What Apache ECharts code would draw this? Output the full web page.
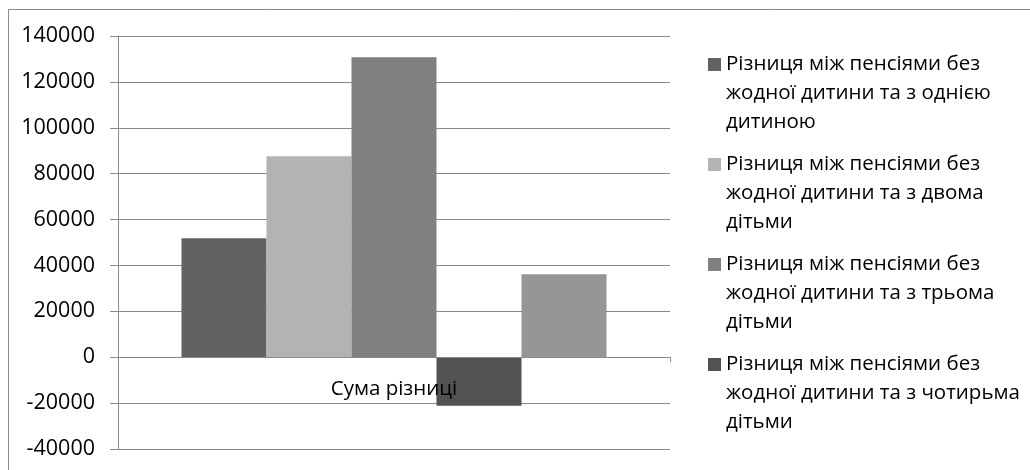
<!DOCTYPE html>
<html>
<head>
<meta charset="utf-8">
<script src="https://cdn.jsdelivr.net/npm/echarts@6/dist/echarts.min.js"></script>
<style>html,body{margin:0;padding:0;background:#fff}#c{width:1030px;height:470px}</style>
</head>
<body>
<div id="c"></div>
<script>
var categories = ['Сума різниці'];
var seriesNames = [
  'Різниця між пенсіями без жодної дитини та з однією дитиною',
  'Різниця між пенсіями без жодної дитини та з двома дітьми',
  'Різниця між пенсіями без жодної дитини та з трьома дітьми',
  'Різниця між пенсіями без жодної дитини та з чотирьма дітьми',
  'Різниця між пенсіями без жодної дитини та з пʼятьма дітьми'
];
var legendLabels = [
  'Різниця між пенсіями без\nжодної дитини та з однією\nдитиною',
  'Різниця між пенсіями без\nжодної дитини та з двома\nдітьми',
  'Різниця між пенсіями без\nжодної дитини та з трьома\nдітьми',
  'Різниця між пенсіями без\nжодної дитини та з чотирьма\nдітьми'
];
var seriesValues = [51900, 87600, 130700, -21200, 36200];
var seriesColors = ['#626262', '#b3b3b3', '#808080', '#525252', '#969696'];
var yMin = -40000, yMax = 140000, yStep = 20000;

var FONT = 'Open Sans';
var gridTop = 36, gridBottom = 21, chartH = 470;
var plotH = chartH - gridTop - gridBottom;
var zeroOffset = plotH * (0 - yMin) / (yMax - yMin);

var chart = echarts.init(document.getElementById('c'));
var series = seriesNames.map(function (n, i) {
  return {
    name: n, type: 'bar', data: [seriesValues[i]],
    barGap: '0%', barCategoryGap: '23%',
    itemStyle: { color: seriesColors[i] },
    emphasis: { disabled: true }
  };
});
chart.setOption({
  animation: false,
  graphic: [{
    type: 'rect', shape: { x: 8.5, y: 9.5, width: 1040, height: 480 },
    style: { fill: 'none', stroke: '#8a8a8a', lineWidth: 1 }, z: -10
  }],
  grid: { left: 118, right: 360, top: gridTop, bottom: gridBottom, containLabel: false, outerBoundsMode: 'none' },
  legend: {
    data: seriesNames.slice(0, 4),
    orient: 'vertical',
    left: 708, top: -8,
    padding: 0,
    itemWidth: 13, itemHeight: 13,
    itemGap: -45,
    icon: 'rect',
    formatter: function (name) { return '\n\n' + legendLabels[seriesNames.indexOf(name)]; },
    textStyle: { fontFamily: FONT, fontSize: 20.5, color: '#000', lineHeight: 29 }
  },
  xAxis: {
    type: 'category', data: categories,
    position: 'bottom',
    offset: -zeroOffset,
    z: 5,
    axisLine: { onZero: false, lineStyle: { color: '#8a8a8a', width: 1 } },
    axisTick: { show: true, length: 5, lineStyle: { color: '#8a8a8a' } },
    axisLabel: { fontFamily: FONT, fontSize: 20.5, color: '#000', margin: 21 }
  },
  yAxis: {
    type: 'value', min: yMin, max: yMax, interval: yStep,
    axisLine: { show: true, lineStyle: { color: '#8a8a8a', width: 1 } },
    axisTick: { show: true, length: 8, lineStyle: { color: '#8a8a8a' } },
    splitLine: { lineStyle: { color: '#8a8a8a', width: 1 } },
    axisLabel: { fontFamily: FONT, fontSize: 21.5, color: '#000', margin: 23,
      formatter: function (v) { return String(v); } }
  },
  series: series
});
</script>
</body>
</html>
